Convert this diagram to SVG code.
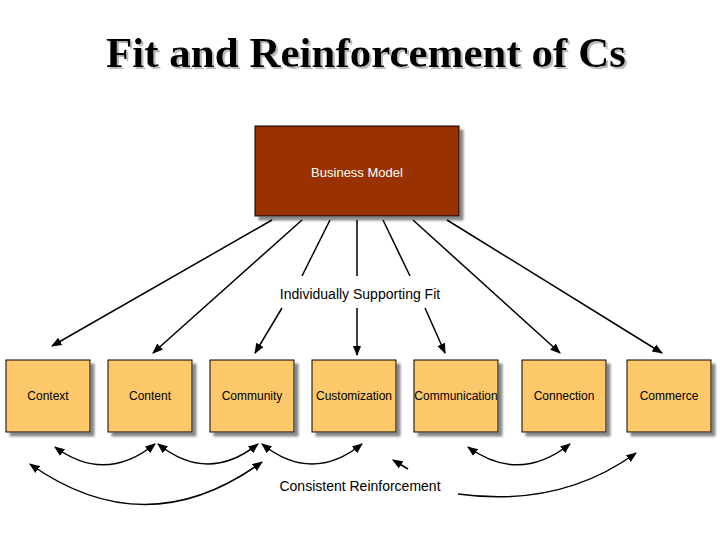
<svg xmlns="http://www.w3.org/2000/svg" width="720" height="540" viewBox="0 0 720 540">
<defs>
<marker id="a" viewBox="0 0 10 10" refX="9" refY="5" markerWidth="7" markerHeight="7" orient="auto-start-reverse"><path d="M0,1 L10,5 L0,9 z" fill="#000"/></marker>
<filter id="s" x="-10%" y="-10%" width="130%" height="130%"><feDropShadow dx="4" dy="4" stdDeviation="1" flood-color="#888"/></filter>
<filter id="ts" x="-5%" y="-20%" width="110%" height="150%"><feDropShadow dx="2" dy="2" stdDeviation="0.5" flood-color="#bbb"/></filter>
</defs>
<style>
.c{fill:#fdc86a;stroke:#000;stroke-width:1;filter:url(#s)}
.t{font-family:"Liberation Sans",Arial,sans-serif;font-size:12px;text-anchor:middle}
.l{stroke:#000;stroke-width:1.5;fill:none}
</style>
<rect width="720" height="540" fill="#fff"/>
<text x="366" y="67" font-family="Liberation Serif,serif" font-size="43" font-weight="bold" text-anchor="middle" fill="#000" filter="url(#ts)">Fit and Reinforcement of Cs</text>
<g id="bm"><rect x="255" y="126" width="204" height="90" fill="#993300" stroke="#000" filter="url(#s)"/><text class="t" x="357" y="177" fill="#fff" style="font-size:13px">Business Model</text></g>
<g id="context"><rect class="c" x="6" y="360" width="84" height="72"/><text class="t" x="48" y="400">Context</text></g>
<g id="content"><rect class="c" x="108" y="360" width="84" height="72"/><text class="t" x="150" y="400">Content</text></g>
<g id="community"><rect class="c" x="210" y="360" width="84" height="72"/><text class="t" x="252" y="400">Community</text></g>
<g id="customization"><rect class="c" x="312" y="360" width="84" height="72"/><text class="t" x="354" y="400">Customization</text></g>
<g id="communication"><rect class="c" x="414" y="360" width="84" height="72"/><text class="t" x="456" y="400">Communication</text></g>
<g id="connection"><rect class="c" x="522" y="360" width="84" height="72"/><text class="t" x="564" y="400">Connection</text></g>
<g id="commerce"><rect class="c" x="627" y="360" width="84" height="72"/><text class="t" x="669" y="400">Commerce</text></g>
<text class="t" x="360" y="299" style="font-size:14px">Individually Supporting Fit</text>
<text class="t" x="360" y="491" style="font-size:14px">Consistent Reinforcement</text>
<g id="connectors">
<path class="l" d="M272,220 L52,346" marker-end="url(#a)"/>
<path class="l" d="M302,220 L153,353" marker-end="url(#a)"/>
<path class="l" d="M330,220 L302,276"/>
<path class="l" d="M282,308 L255,353" marker-end="url(#a)"/>
<path class="l" d="M357,220 L357,276"/>
<path class="l" d="M357,308 L357,355" marker-end="url(#a)"/>
<path class="l" d="M383,220 L410,276"/>
<path class="l" d="M425,308 L445,353" marker-end="url(#a)"/>
<path class="l" d="M413,220 L560,353" marker-end="url(#a)"/>
<path class="l" d="M447,220 L662,353" marker-end="url(#a)"/>
<path class="l" d="M55,447 Q105,484 155,444" marker-start="url(#a)" marker-end="url(#a)"/>
<path class="l" d="M158,444 Q208,484 258,444" marker-start="url(#a)" marker-end="url(#a)"/>
<path class="l" d="M262,444 Q312,484 362,444" marker-start="url(#a)" marker-end="url(#a)"/>
<path class="l" d="M30,464 Q146,546 262,462" marker-start="url(#a)" marker-end="url(#a)"/>
<path class="l" d="M468,447 Q519,484 570,444" marker-start="url(#a)" marker-end="url(#a)"/>
<path class="l" d="M408,469 L393,460" marker-end="url(#a)"/>
<path class="l" d="M458,494 Q560,508 636,453" marker-end="url(#a)"/>
</g>
</svg>
